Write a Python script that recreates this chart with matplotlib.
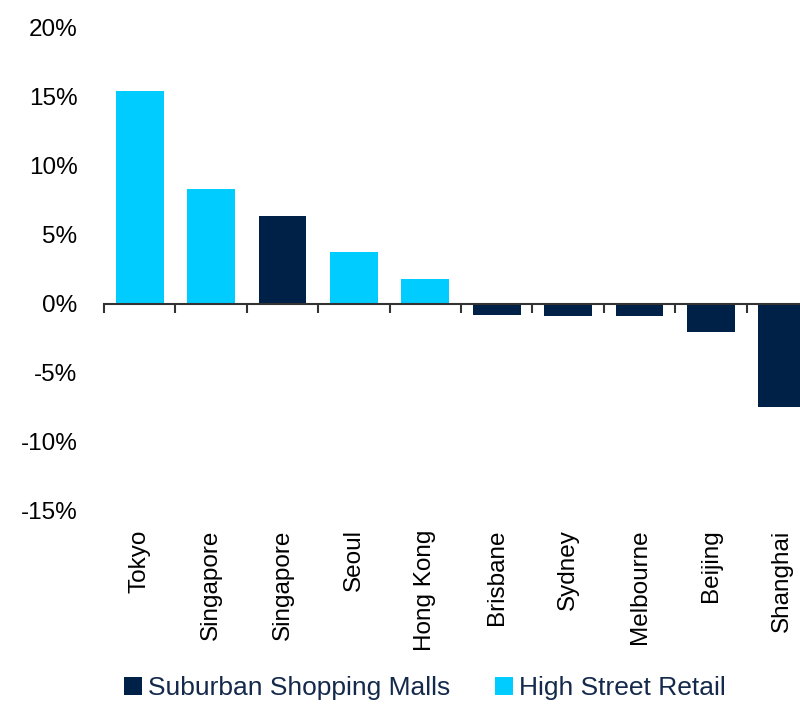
import matplotlib
matplotlib.use("Agg")
import matplotlib.pyplot as plt
from matplotlib.patches import Patch
from matplotlib.ticker import FuncFormatter, FixedLocator
import numpy as np

# Rental growth by city and retail segment
cities = ["Tokyo", "Singapore", "Singapore", "Seoul", "Hong Kong",
          "Brisbane", "Sydney", "Melbourne", "Beijing", "Shanghai"]
segments = ["High Street Retail", "High Street Retail", "Suburban Shopping Malls",
            "High Street Retail", "High Street Retail",
            "Suburban Shopping Malls", "Suburban Shopping Malls",
            "Suburban Shopping Malls", "Suburban Shopping Malls",
            "Suburban Shopping Malls"]
growth = [15.4, 8.3, 6.4, 3.8, 1.8, -0.8, -0.85, -0.9, -2.0, -7.5]

y_ticks = [-15, -10, -5, 0, 5, 10, 15, 20]
legend_order = ["Suburban Shopping Malls", "High Street Retail"]

palette = {"Suburban Shopping Malls": "#002147", "High Street Retail": "#00CCFF"}
text_navy = "#14294B"

plt.rcParams["font.family"] = ["Liberation Sans", "DejaVu Sans"]

fig = plt.figure(figsize=(8.0, 7.05), dpi=100)
ax = fig.add_axes([0.13, 0.2752, 0.8925, 0.6851])

x = np.arange(len(cities))
ax.bar(x, growth, width=0.672, color=[palette[s] for s in segments],
       linewidth=0, zorder=2)

ax.set_xlim(-0.5, len(cities) - 0.5)
ax.set_ylim(y_ticks[0], y_ticks[-1])

# y axis: labels only, no line or tick marks
ax.yaxis.set_major_locator(FixedLocator(y_ticks))
ax.yaxis.set_major_formatter(FuncFormatter(lambda v, _: f"{v:.0f}%"))
ax.tick_params(axis="y", length=0, pad=19, labelsize=17.5, labelcolor="black")

# x axis line at zero with ticks between categories
for side in ("left", "right", "top"):
    ax.spines[side].set_visible(False)
ax.spines["bottom"].set_position(("data", 0))
ax.spines["bottom"].set_color("#333333")
ax.spines["bottom"].set_linewidth(1.5)
ax.spines["bottom"].set_zorder(3)
ax.set_xticks(np.arange(len(cities) + 1) - 0.5)
ax.set_xticklabels([])
ax.tick_params(axis="x", direction="out", length=6.5, width=1.5, color="#333333")

# category labels below the plot area
for xi, name in zip(x, cities):
    ax.text(xi, -0.038, name, transform=ax.get_xaxis_transform(),
            rotation=90, ha="center", va="top", fontsize=17.5, color="black")

handles = [Patch(facecolor=palette[s], edgecolor="none", label=s) for s in legend_order]
leg = fig.legend(handles=handles, loc="lower center", bbox_to_anchor=(0.531, -0.027),
                 ncol=2, frameon=False, handlelength=0.68, handleheight=0.68,
                 handletextpad=0.23, columnspacing=1.7,
                 prop={"family": ["Liberation Sans", "DejaVu Sans"], "size": 19})
for t in leg.get_texts():
    t.set_color(text_navy)

fig.savefig("out.png", dpi=100)
